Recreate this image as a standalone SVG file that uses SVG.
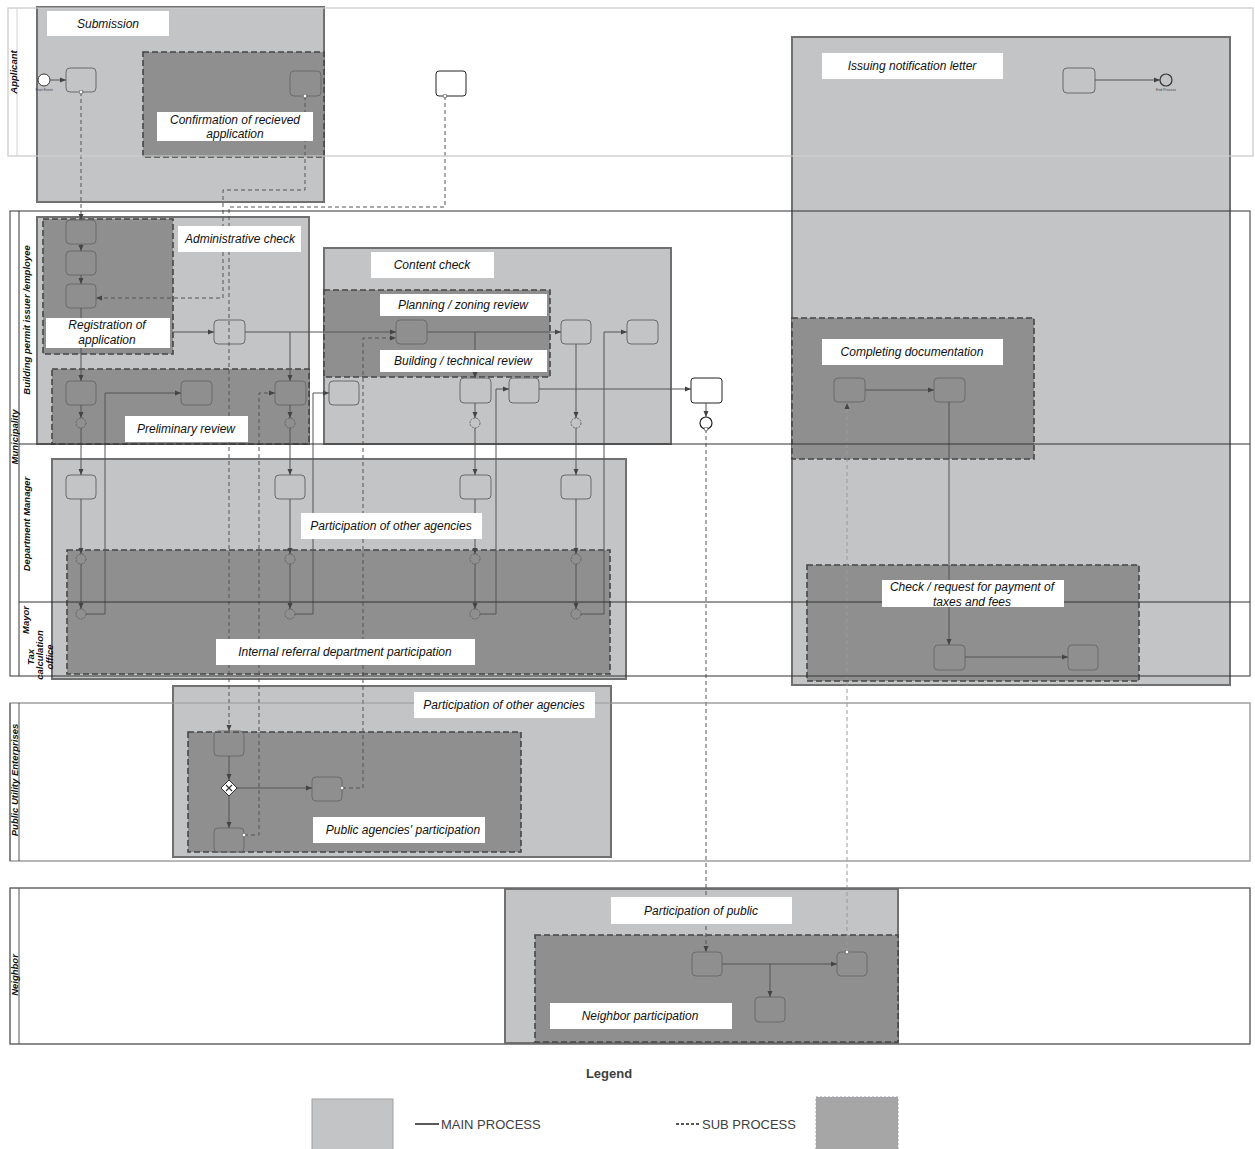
<svg xmlns="http://www.w3.org/2000/svg" width="1255" height="1149" viewBox="0 0 1255 1149">
<style>
.bg{fill:#fff}
.main{fill:#c3c4c6;stroke:#707070;stroke-width:2}
.sub{fill:#8f8f8f;stroke:#464646;stroke-width:1.6;stroke-dasharray:6 3}
.lbl{fill:#fff}
.lt{font-family:"Liberation Sans",Arial,sans-serif;font-style:italic;font-size:12px;fill:#111;text-anchor:middle;dominant-baseline:central}
.pl{font-family:"Liberation Sans",Arial,sans-serif;font-weight:bold;font-style:italic;font-size:9.5px;fill:#111;text-anchor:middle}
.task{fill:none;stroke:#6a6a6a;stroke-width:1}
.wt{fill:#fff;stroke:#222;stroke-width:1}
.ev{fill:none;stroke:#5e5e5e;stroke-width:0.9;stroke-dasharray:2 1}
.f{fill:none;stroke:#555;stroke-width:1;marker-end:url(#ah)}
.m{fill:none;stroke:#555;stroke-width:1;stroke-dasharray:4 3;marker-start:url(#mc);marker-end:url(#ah)}
.ml{fill:none;stroke:#9a9a9a;stroke-width:1;stroke-dasharray:4 3;marker-start:url(#mc);marker-end:url(#ah)}
.lane{fill:none;stroke:#333;stroke-width:1}
.tiny{font-family:"Liberation Sans",Arial,sans-serif;font-size:3.5px;fill:#444;text-anchor:middle}
.leg{font-family:"Liberation Sans",Arial,sans-serif;font-size:13px;fill:#404040}
</style>
<defs>
<marker id="ah" viewBox="0 0 6 6" refX="6" refY="3" markerWidth="6" markerHeight="6" markerUnits="userSpaceOnUse" orient="auto"><path d="M0,0.5 L6,3 L0,5.5 Z" fill="#444"/></marker>
<marker id="mc" viewBox="0 0 6 6" refX="3" refY="3" markerWidth="5" markerHeight="5" markerUnits="userSpaceOnUse"><circle cx="3" cy="3" r="2.3" fill="#fff" stroke="#444" stroke-width="0.8"/></marker>
</defs>
<rect width="1255" height="1149" fill="#fff"/>

<g id="pools">
<rect x="8" y="8" width="1245" height="148" class="bg" stroke="#d2d2d2"/>
<rect x="10" y="211" width="1240" height="465" class="bg"/>
<rect x="10" y="703" width="1240" height="158" class="bg" stroke="#aaa"/>
<rect x="10" y="888" width="1240" height="156" class="bg" stroke="#666"/>
</g>

<g id="containers">
<g id="submission"><rect x="37" y="7" width="287" height="195" class="main"/></g>
<g id="confirmation"><rect x="143" y="52" width="181" height="105" class="sub"/></g>
<g id="issuing"><rect x="792" y="37" width="438" height="648" class="main"/></g>
<g id="admin-check"><rect x="37" y="217" width="272" height="227" class="main"/></g>
<g id="registration"><rect x="43" y="219" width="130" height="135" class="sub"/></g>
<g id="preliminary"><rect x="52" y="369" width="257" height="75" class="sub"/></g>
<g id="content-check"><rect x="324" y="248" width="347" height="196" class="main"/></g>
<g id="planning-building"><rect x="324" y="290" width="226" height="87" class="sub"/></g>
<g id="participation-agencies"><rect x="52" y="459" width="574" height="220" class="main"/></g>
<g id="internal-referral"><rect x="67" y="550" width="543" height="124" class="sub"/></g>
<g id="completing"><rect x="792" y="318" width="242" height="141" class="sub"/></g>
<g id="check-payment"><rect x="807" y="565" width="332" height="116" class="sub"/></g>
<g id="participation-pue"><rect x="173" y="686" width="438" height="171" class="main"/></g>
<g id="public-agencies"><rect x="188" y="732" width="333" height="120" class="sub"/></g>
<g id="participation-public"><rect x="505" y="889" width="393" height="154" class="main"/></g>
<g id="neighbor-participation"><rect x="535" y="935" width="363" height="107" class="sub"/></g>
</g>

<g id="nodes">
<g id="start"><circle cx="44" cy="80" r="6" fill="#fff" stroke="#333"/><text x="44" y="91" class="tiny">Start Event</text></g>
<g id="t-a"><rect x="66" y="68" width="30" height="24" rx="4" class="task"/></g>
<g id="t-b"><rect x="290" y="71" width="31" height="25" rx="4" class="task"/></g>
<g id="t-c"><rect x="436" y="71" width="30" height="25" rx="3" class="wt"/></g>
<g id="t-i1"><rect x="1063" y="68" width="32" height="25" rx="4" class="task"/></g>
<g id="end"><circle cx="1166" cy="80" r="6" fill="none" stroke="#333" stroke-width="1.2"/><text x="1166" y="91" class="tiny">End Process</text></g>
<g id="t-r1"><rect x="66" y="220" width="30" height="24" rx="4" class="task"/></g>
<g id="t-r2"><rect x="66" y="251" width="30" height="24" rx="4" class="task"/></g>
<g id="t-r3"><rect x="66" y="284" width="30" height="24" rx="4" class="task"/></g>
<g id="t-ad"><rect x="214" y="320" width="31" height="24" rx="4" class="task"/></g>
<g id="t-p1"><rect x="66" y="381" width="30" height="24" rx="4" class="task"/></g>
<g id="t-p2"><rect x="181" y="381" width="31" height="24" rx="4" class="task"/></g>
<g id="t-p3"><rect x="275" y="381" width="31" height="24" rx="4" class="task"/></g>
<g id="t-c0"><rect x="329" y="381" width="30" height="24" rx="4" class="task"/></g>
<g id="t-c1"><rect x="396" y="320" width="31" height="24" rx="4" class="task"/></g>
<g id="t-c2"><rect x="561" y="320" width="30" height="24" rx="4" class="task"/></g>
<g id="t-c3"><rect x="627" y="320" width="31" height="24" rx="4" class="task"/></g>
<g id="t-c4"><rect x="460" y="378" width="31" height="25" rx="4" class="task"/></g>
<g id="t-c5"><rect x="509" y="378" width="30" height="25" rx="4" class="task"/></g>
<g id="t-notify"><rect x="691" y="378" width="31" height="25" rx="3" class="wt"/></g>
<g id="gw-notify"><circle cx="706" cy="423" r="6" fill="#fff" stroke="#222" stroke-width="1.2"/></g>
<g id="ev-p"><circle cx="81" cy="423" r="5" class="ev"/><circle cx="290" cy="423" r="5" class="ev"/><circle cx="475" cy="423" r="5" class="ev"/><circle cx="576" cy="423" r="5" class="ev"/></g>
<g id="t-d1"><rect x="66" y="475" width="30" height="24" rx="4" class="task"/></g>
<g id="t-d2"><rect x="275" y="475" width="30" height="24" rx="4" class="task"/></g>
<g id="t-d3"><rect x="460" y="475" width="31" height="24" rx="4" class="task"/></g>
<g id="t-d4"><rect x="561" y="475" width="30" height="24" rx="4" class="task"/></g>
<g id="ev-d"><circle cx="81" cy="559" r="5" class="ev"/><circle cx="290" cy="559" r="5" class="ev"/><circle cx="475" cy="559" r="5" class="ev"/><circle cx="576" cy="559" r="5" class="ev"/></g>
<g id="ev-m"><circle cx="81" cy="614" r="5" class="ev"/><circle cx="290" cy="614" r="5" class="ev"/><circle cx="475" cy="614" r="5" class="ev"/><circle cx="576" cy="614" r="5" class="ev"/></g>
<g id="t-cd1"><rect x="834" y="378" width="31" height="24" rx="4" class="task"/></g>
<g id="t-cd2"><rect x="934" y="378" width="31" height="24" rx="4" class="task"/></g>
<g id="t-tx1"><rect x="934" y="645" width="31" height="25" rx="4" class="task"/></g>
<g id="t-tx2"><rect x="1068" y="645" width="30" height="25" rx="4" class="task"/></g>
<g id="t-u1"><rect x="214" y="731" width="30" height="25" rx="4" class="task"/></g>
<g id="gw-u"><path d="M229,780 L237,788 L229,796 L221,788 Z" fill="#fff" stroke="#333"/><path d="M226,785 L232,791 M232,785 L226,791" stroke="#333" stroke-width="1.2"/></g>
<g id="t-u2"><rect x="312" y="777" width="30" height="24" rx="4" class="task"/></g>
<g id="t-u3"><rect x="214" y="828" width="30" height="24" rx="4" class="task"/></g>
<g id="t-nb1"><rect x="692" y="952" width="30" height="24" rx="4" class="task"/></g>
<g id="t-nb2"><rect x="837" y="952" width="30" height="24" rx="4" class="task"/></g>
<g id="t-nb3"><rect x="755" y="997" width="30" height="25" rx="4" class="task"/></g>
</g>

<g id="connectors">
<path class="f" d="M50,80 H66"/>
<path class="f" d="M81,244 V251"/>
<path class="f" d="M81,275 V284"/>
<path class="f" d="M173,332 H214"/>
<path class="f" d="M245,332 H396"/>
<path class="f" d="M290,332 V381"/>
<path class="f" d="M81,308 V381"/>
<path class="f" d="M81,405 V418"/><path class="f" d="M81,428 V475"/><path class="f" d="M81,499 V554"/><path class="f" d="M81,564 V609"/>
<path class="f" d="M86,614 H105 V393 H181"/>
<path class="f" d="M290,405 V418"/><path class="f" d="M290,428 V475"/><path class="f" d="M290,499 V554"/><path class="f" d="M290,564 V609"/>
<path class="f" d="M295,614 H313 V393 H329"/>
<path class="f" d="M427,332 H561"/>
<path class="f" d="M475,332 V378"/>
<path class="f" d="M475,403 V418"/><path class="f" d="M475,428 V475"/><path class="f" d="M475,499 V554"/><path class="f" d="M475,564 V609"/>
<path class="f" d="M480,614 H496 V389 H509"/>
<path class="f" d="M576,344 V418"/><path class="f" d="M576,428 V475"/><path class="f" d="M576,499 V554"/><path class="f" d="M576,564 V609"/>
<path class="f" d="M581,614 H604 V332 H627"/>
<path class="f" d="M539,389 H691"/>
<path class="f" d="M706,403 V417" stroke="#222" stroke-width="1.3"/>
<path class="f" d="M865,390 H934"/>
<path class="f" d="M949,402 V645"/>
<path class="f" d="M965,657 H1068"/>
<path class="f" d="M1095,80 H1160"/>
<path class="f" d="M229,756 V780"/>
<path class="f" d="M237,788 H312"/>
<path class="f" d="M229,796 V828"/>
<path class="f" d="M722,964 H837"/>
<path class="f" d="M770,964 V997"/>
<path class="m" d="M81,92 V220"/>
<path class="m" d="M305,96 V190 H223 V298 H96"/>
<path class="m" d="M445,96 V207 H229 V731"/>
<path class="m" d="M244,835 H259 V393 H275"/>
<path class="m" d="M342,788 H363 V338 H396"/>
<path class="m" d="M706,429 V952"/>
<path class="ml" d="M847,952 V403"/>
</g>

<g id="lanes">
<rect x="8" y="8" width="1245" height="148" fill="none" stroke="#d2d2d2"/>
<line x1="17" y1="8" x2="17" y2="156" stroke="#d2d2d2"/>
<rect x="10" y="211" width="1240" height="465" class="lane"/>
<line x1="19" y1="211" x2="19" y2="676" class="lane"/>
<line x1="19" y1="444" x2="1250" y2="444" class="lane"/>
<line x1="19" y1="602" x2="1250" y2="602" class="lane"/>
<rect x="10" y="703" width="1240" height="158" fill="none" stroke="#999"/>
<line x1="19" y1="703" x2="19" y2="861" stroke="#555"/>
<line x1="10" y1="703" x2="10" y2="861" stroke="#555"/>
<rect x="10" y="888" width="1240" height="156" fill="none" stroke="#666"/>
<line x1="19" y1="888" x2="19" y2="1044" stroke="#555"/>
<text class="pl" transform="translate(16.5,72) rotate(-90)">Applicant</text>
<text class="pl" transform="translate(18,437) rotate(-90)">Municipality</text>
<text class="pl" transform="translate(29.5,320) rotate(-90)">Building permit issuer /employee</text>
<text class="pl" transform="translate(29.5,524) rotate(-90)">Department Manager</text>
<text class="pl" transform="translate(28.5,620) rotate(-90)">Mayor</text>
<text class="pl" transform="translate(33.5,657) rotate(-90)">Tax</text>
<text class="pl" transform="translate(43,655) rotate(-90)">calculation</text>
<text class="pl" transform="translate(52.5,657) rotate(-90)">office</text>
<text class="pl" transform="translate(18,780) rotate(-90)">Public Utility Enterprises</text>
<text class="pl" transform="translate(18,975) rotate(-90)">Neighbor</text>
</g>

<g id="labels">
<g id="lbl-submission"><rect x="47" y="11" width="122" height="25" class="lbl"/><text x="108" y="23.5" class="lt">Submission</text></g>
<g id="lbl-confirmation"><rect x="157" y="112" width="156" height="29" class="lbl"/><text x="235" y="119.5" class="lt">Confirmation of recieved</text><text x="235" y="134" class="lt">application</text></g>
<g id="lbl-admin"><rect x="178" y="226" width="123" height="26" class="lbl"/><text x="240" y="239" class="lt">Administrative check</text></g>
<g id="lbl-registration"><rect x="46" y="318" width="124" height="30" class="lbl"/><text x="107" y="325" class="lt">Registration of</text><text x="107" y="340" class="lt">application</text></g>
<g id="lbl-preliminary"><rect x="125" y="416" width="123" height="26" class="lbl"/><text x="186" y="429" class="lt">Preliminary review</text></g>
<g id="lbl-content"><rect x="371" y="252" width="123" height="26" class="lbl"/><text x="432" y="265" class="lt">Content check</text></g>
<g id="lbl-planning"><rect x="380" y="294" width="167" height="22" class="lbl"/><text x="463" y="305" class="lt">Planning / zoning review</text></g>
<g id="lbl-building"><rect x="380" y="350" width="167" height="22" class="lbl"/><text x="463" y="361" class="lt">Building / technical review</text></g>
<g id="lbl-participation-agencies"><rect x="301" y="513" width="181" height="26" class="lbl"/><text x="391" y="526" class="lt">Participation of other agencies</text></g>
<g id="lbl-internal"><rect x="216" y="639" width="259" height="26" class="lbl"/><text x="345" y="652" class="lt">Internal referral department participation</text></g>
<g id="lbl-issuing"><rect x="822" y="53" width="181" height="26" class="lbl"/><text x="912" y="66" class="lt">Issuing notification letter</text></g>
<g id="lbl-completing"><rect x="822" y="339" width="181" height="26" class="lbl"/><text x="912" y="352" class="lt">Completing documentation</text></g>
<g id="lbl-check"><rect x="882" y="580" width="182" height="27" class="lbl"/><text x="972" y="587" class="lt">Check / request for payment of</text><text x="972" y="601.5" class="lt">taxes and fees</text></g>
<g id="lbl-participation-pue"><rect x="414" y="692" width="181" height="26" class="lbl"/><text x="504" y="705" class="lt">Participation of other agencies</text></g>
<g id="lbl-public-agencies"><rect x="313" y="817" width="172" height="26" class="lbl"/><text x="403" y="830" class="lt">Public agencies' participation</text></g>
<g id="lbl-participation-public"><rect x="611" y="897" width="181" height="27" class="lbl"/><text x="701" y="910.5" class="lt">Participation of public</text></g>
<g id="lbl-neighbor"><rect x="550" y="1003" width="182" height="26" class="lbl"/><text x="640" y="1016" class="lt">Neighbor participation</text></g>
</g>

<g id="legend">
<text x="609" y="1078" class="leg" font-weight="bold" text-anchor="middle">Legend</text>
<rect x="312" y="1099" width="81" height="52" fill="#c3c4c6" stroke="#a0a0a0"/>
<line x1="415" y1="1124" x2="439" y2="1124" stroke="#222" stroke-width="1.5"/>
<text x="441" y="1129" class="leg">MAIN PROCESS</text>
<line x1="676" y1="1124" x2="700" y2="1124" stroke="#222" stroke-width="1.5" stroke-dasharray="3 2"/>
<text x="702" y="1129" class="leg">SUB PROCESS</text>
<rect x="816" y="1097" width="82" height="54" fill="#a6a6a6" stroke="#9aa2ab" stroke-dasharray="2 2"/>
</g>
</svg>
